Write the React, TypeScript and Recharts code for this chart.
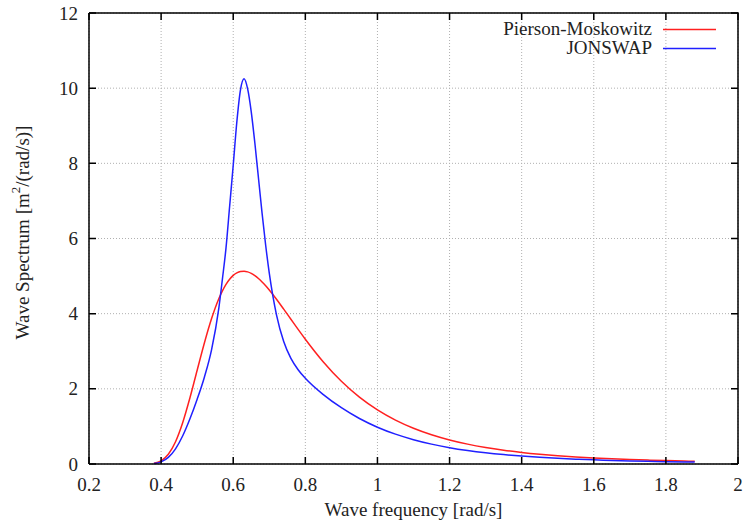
import { LineChart, Line, XAxis, YAxis, CartesianGrid } from 'recharts'

// wave frequency [rad/s]
const FREQ = [
  0.38, 0.4, 0.42, 0.44, 0.46, 0.48, 0.5, 0.52, 0.54, 0.56, 0.57, 0.58, 0.59, 0.6, 0.61, 0.62, 0.63,
  0.64, 0.65, 0.66, 0.67, 0.68, 0.69, 0.7, 0.72, 0.74, 0.76, 0.78, 0.8, 0.85, 0.9, 0.95, 1.0, 1.05,
  1.1, 1.15, 1.2, 1.25, 1.3, 1.35, 1.4, 1.45, 1.5, 1.55, 1.6, 1.65, 1.7, 1.75, 1.8, 1.85, 1.88,
]

const PIERSON_MOSKOWITZ = [
  0.02, 0.086, 0.259, 0.593, 1.105, 1.762, 2.495, 3.221, 3.871, 4.398, 4.608, 4.781, 4.916, 5.018, 5.085, 5.122, 5.13,
  5.112, 5.072, 5.013, 4.936, 4.845, 4.743, 4.63, 4.385, 4.121, 3.852, 3.583, 3.321, 2.716, 2.202, 1.78, 1.44, 1.168,
  0.951, 0.778, 0.64, 0.529, 0.44, 0.368, 0.309, 0.261, 0.222, 0.189, 0.162, 0.139, 0.12, 0.104, 0.091, 0.079, 0.073,
]

const JONSWAP = [
  0.012, 0.058, 0.176, 0.403, 0.752, 1.203, 1.723, 2.309, 3.043, 4.142, 4.92, 5.75, 6.85, 7.95, 9.1, 9.95, 10.25,
  9.98, 9.37, 8.54, 7.61, 6.675, 5.82, 5.08, 3.97, 3.259, 2.81, 2.508, 2.282, 1.847, 1.497, 1.21, 0.979, 0.794,
  0.647, 0.529, 0.435, 0.36, 0.299, 0.25, 0.21, 0.177, 0.151, 0.129, 0.11, 0.095, 0.082, 0.071, 0.062, 0.054, 0.05,
]

const SERIES = [
  { key: 'pm', name: 'Pierson-Moskowitz', color: '#ff2020' },
  { key: 'js', name: 'JONSWAP', color: '#2020ff' },
]
const X_DOMAIN = [0.2, 2]
const Y_DOMAIN = [0, 12]
const X_TICKS = [0.2, 0.4, 0.6, 0.8, 1, 1.2, 1.4, 1.6, 1.8, 2]
const Y_TICKS = [0, 2, 4, 6, 8, 10, 12]

const data = FREQ.map((f, i) => ({ f, pm: PIERSON_MOSKOWITZ[i], js: JONSWAP[i] }))

const FONT = '"Liberation Serif", "Times New Roman", serif'
const INK = '#222'
const FRAME = '#000000'

const W = 744
const H = 527
const TOP = 13
const RIGHT = 6
const YAXIS_W = 89
const XAXIS_H = 63
const PLOT_BOTTOM = H - XAXIS_H
const TICK = 7

function XTick({ x, payload }: any) {
  return (
    <text x={x} y={PLOT_BOTTOM + 27} textAnchor="middle" fill={INK} fontSize={19} fontFamily={FONT}>
      {String(payload.value)}
    </text>
  )
}

function YTick({ y, payload }: any) {
  return (
    <text x={YAXIS_W - 11} y={y} dy="0.35em" textAnchor="end" fill={INK} fontSize={19} fontFamily={FONT}>
      {String(payload.value)}
    </text>
  )
}

function YLabel({ viewBox }: any) {
  const cx = 22
  const cy = (TOP + PLOT_BOTTOM) / 2 - 6
  return (
    <text x={cx} y={cy} transform={`rotate(-90 ${cx} ${cy})`} textAnchor="middle" dominantBaseline="central"
      fill={INK} fontSize={19} fontFamily={FONT}>
      Wave Spectrum [m<tspan fontSize={13} dy={-7}>2</tspan><tspan dy={7}>/(rad/s)]</tspan>
    </text>
  )
}

// x axis title, gnuplot-style box with inward mirrored ticks, and the key
function XLabel({ viewBox }: any) {
  const left = viewBox.x
  const right = viewBox.x + viewBox.width
  const bottom = PLOT_BOTTOM
  const top = TOP
  const px = (t: number) => left + ((t - X_DOMAIN[0]) / (X_DOMAIN[1] - X_DOMAIN[0])) * (right - left)
  const py = (v: number) => bottom - ((v - Y_DOMAIN[0]) / (Y_DOMAIN[1] - Y_DOMAIN[0])) * (bottom - top)
  return (
    <g>
      <path d={`M${left},${top}H${right}V${bottom}`} fill="none" stroke={FRAME} strokeWidth={1.5} />
      {X_TICKS.map((t) => (
        <g key={`x${t}`}>
          <path d={`M${px(t)},${bottom}V${bottom - TICK}M${px(t)},${top}V${top + TICK}`} stroke={FRAME} strokeWidth={1.5} />
        </g>
      ))}
      {Y_TICKS.map((v) => (
        <g key={`y${v}`}>
          <path d={`M${left},${py(v)}H${left + TICK}M${right},${py(v)}H${right - TICK}`} stroke={FRAME} strokeWidth={1.5} />
        </g>
      ))}
      <text x={(left + right) / 2} y={516} textAnchor="middle" fill={INK} fontSize={19} fontFamily={FONT}>
        Wave frequency [rad/s]
      </text>
      {SERIES.map((s, i) => (
        <g key={s.key}>
          <text x={652} y={35 + i * 19} textAnchor="end" fill={INK} fontSize={19} fontFamily={FONT}>{s.name}</text>
          <line x1={663} x2={716} y1={29.5 + i * 19} y2={29.5 + i * 19} stroke={s.color} strokeWidth={1.5} />
        </g>
      ))}
    </g>
  )
}

export default function App() {
  return (
    <div style={{ width: W, height: H, background: '#fff' }}>
      <style>{'body{margin:0}'}</style>
      <LineChart width={W} height={H} data={data} margin={{ top: TOP, right: RIGHT, left: 0, bottom: 0 }}>
        <CartesianGrid stroke="#b0b0b0" strokeDasharray="1 2" />
        <XAxis dataKey="f" type="number" domain={X_DOMAIN} ticks={X_TICKS} height={XAXIS_H}
          tickSize={0} tickLine={false} tick={<XTick />} axisLine={{ stroke: FRAME, strokeWidth: 1.5 }}
          label={<XLabel />} />
        <YAxis type="number" domain={Y_DOMAIN} ticks={Y_TICKS} width={YAXIS_W}
          tickSize={0} tickLine={false} tick={<YTick />} axisLine={{ stroke: FRAME, strokeWidth: 1.5 }}
          label={<YLabel />} />
        {SERIES.map((s) => (
          <Line key={s.key} name={s.name} dataKey={s.key} type="monotone" stroke={s.color} strokeWidth={1.5}
            dot={false} isAnimationActive={false} />
        ))}
      </LineChart>
    </div>
  )
}
